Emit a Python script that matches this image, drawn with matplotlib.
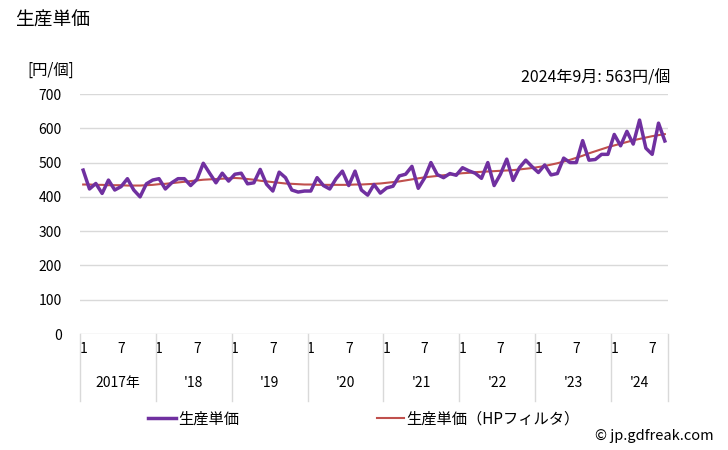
import matplotlib
matplotlib.use("Agg")
import matplotlib.pyplot as plt
import numpy as np
from matplotlib.lines import Line2D

plt.rcParams['font.family'] = ['Noto Sans CJK JP', 'DejaVu Sans']

# 2017年1月〜2024年9月 (月次)
years = ["2017年", "'18", "'19", "'20", "'21", "'22", "'23", "'24"]
months_in_year = [12, 12, 12, 12, 12, 12, 12, 9]

unit_price = [
    478, 423, 439, 410, 449, 420, 430, 453, 420, 400, 438, 449,   # 2017
    453, 423, 441, 453, 453, 433, 451, 498, 469, 441, 469, 446,   # 2018
    466, 469, 438, 441, 480, 437, 417, 472, 456, 420, 414, 417,   # 2019
    417, 456, 433, 423, 453, 475, 433, 475, 420, 405, 436, 411,   # 2020
    426, 431, 461, 466, 489, 425, 455, 500, 465, 456, 468, 463,   # 2021
    485, 476, 469, 454, 500, 433, 466, 510, 448, 485, 507, 488,   # 2022
    471, 493, 464, 468, 513, 500, 500, 564, 507, 509, 524, 524,   # 2023
    582, 549, 591, 554, 624, 542, 524, 615, 563,                  # 2024
]

hp_trend = [
    436, 436, 435, 435, 434, 434, 434, 433, 433, 433, 434, 435,
    437, 438, 440, 442, 444, 446, 448, 450, 451, 452, 453, 454,
    455, 454, 452, 450, 447, 445, 443, 441, 439, 438, 437, 436,
    436, 435, 435, 435, 435, 435, 435, 436, 436, 437, 438, 439,
    441, 443, 445, 448, 451, 454, 457, 459, 461, 463, 465, 467,
    469, 470, 472, 473, 474, 475, 476, 477, 478, 480, 482, 484,
    487, 490, 494, 498, 503, 508, 514, 520, 527, 533, 539, 545,
    550, 555, 560, 565, 569, 573, 577, 580, 583,
]

y_ticks = [0, 100, 200, 300, 400, 500, 600, 700]

W, H = 728, 450
fig = plt.figure(figsize=(W / 100, H / 100), dpi=100)
ax = fig.add_axes([80 / W, (H - 334) / H, 588 / W, 240 / H])

x = np.arange(len(unit_price))
purple = "#7030A0"
red = "#C0504D"
ax.plot(x, hp_trend, color=red, lw=1.5, zorder=3)
ax.plot(x, unit_price, color=purple, lw=2.5, zorder=4)

ax.set_xlim(-0.5, len(unit_price) - 0.5)
ax.set_ylim(0, 700)
ax.set_yticks(y_ticks)
ax.yaxis.grid(True, color="#d9d9d9", lw=1)
ax.set_axisbelow(True)
for s in ax.spines.values():
    s.set_visible(False)
ax.tick_params(axis="y", length=0, pad=13, labelsize=10)

# 月ラベルと年区切り
tick_pos, tick_lab = [], []
start = 0
bounds = [-0.5]
for yr, n in zip(years, months_in_year):
    tick_pos += [start, start + 6] if n > 6 else [start]
    tick_lab += ["1", "7"] if n > 6 else ["1"]
    ax.text(start + (n - 1) / 2, -0.205, yr, transform=ax.get_xaxis_transform(),
            ha="center", va="center", fontsize=10)
    start += n
    bounds.append(start - 0.5)
ax.set_xticks(tick_pos)
ax.set_xticklabels(tick_lab, fontsize=10)
ax.tick_params(axis="x", length=0, pad=6)

for b in bounds:
    ax.plot([b, b], [0, -0.28], transform=ax.get_xaxis_transform(),
            color="#d9d9d9", lw=1, clip_on=False)

fig.text(15 / W, 1 - 20 / H, "生産単価", fontsize=13.5, va="center", ha="left")
fig.text(27 / W, 1 - 70 / H, "[円/個]", fontsize=11, va="center", ha="left")
fig.text(670 / W, 1 - 78 / H, "2024年9月: 563円/個", fontsize=11.5, va="center", ha="right")
fig.text(714 / W, 1 - 436 / H, "© jp.gdfreak.com", fontsize=10.5, va="center", ha="right")

handles = [Line2D([], [], color=purple, lw=2.5), Line2D([], [], color=red, lw=1.5)]
fig.legend(handles, ["生産単価", "生産単価（HPフィルタ）"], loc="center",
           bbox_to_anchor=(0.50, 1 - 419 / H), ncol=2, frameon=False,
           fontsize=11, handlelength=1.8, handletextpad=0.15, columnspacing=9)

fig.savefig("out.png", dpi=100)
